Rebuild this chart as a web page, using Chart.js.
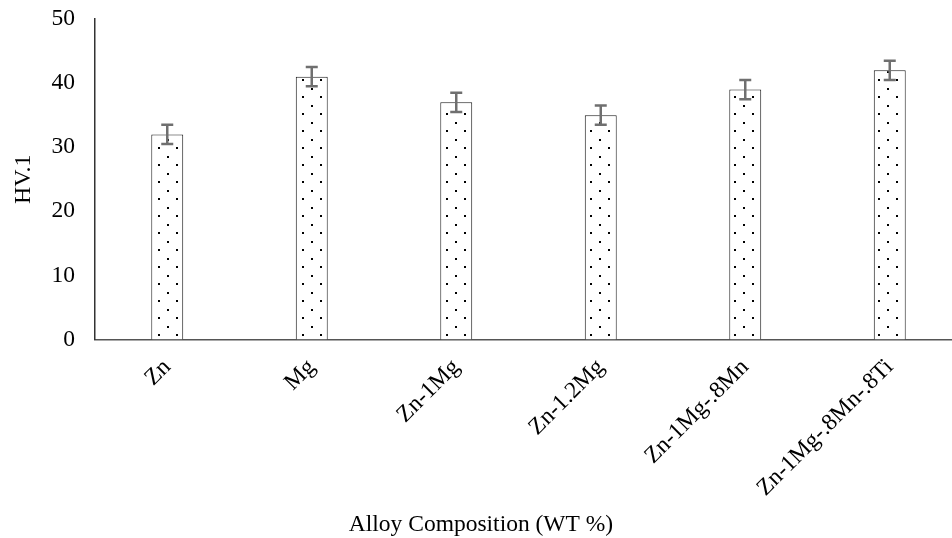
<!DOCTYPE html>
<html>
<head>
<meta charset="utf-8">
<script src="https://cdn.jsdelivr.net/npm/chart.js@4.4.1/dist/chart.umd.min.js"></script>
<style>
    html, body { margin: 0; padding: 0; background: #fff; overflow: hidden; }
    #wrap { width: 962px; height: 538px; }
</style>
</head>
<body>
<div id="wrap"><canvas id="barChart" width="962" height="538"></canvas></div>
<script>
// chart data
const alloys = ['Zn', 'Mg', 'Zn-1Mg', 'Zn-1.2Mg', 'Zn-1Mg-.8Mn', 'Zn-1Mg-.8Mn-.8Ti'];
const hardness = [32, 41, 37, 35, 39, 42];
const hardnessErr = [1.5, 1.5, 1.5, 1.5, 1.5, 1.5];
const yTicks = [0, 10, 20, 30, 40, 50];

const serif = 'Liberation Serif';

// dotted fill like the excel pattern
function dotPattern() {
    const c = document.createElement('canvas');
    c.width = 18;
    c.height = 17;
    const g = c.getContext('2d');
    g.fillStyle = '#fff';
    g.fillRect(0, 0, 18, 17);
    g.fillStyle = '#000';
    g.fillRect(14, 11, 2, 2);
    g.fillRect(5, 3, 2, 2);
    return document.getElementById('barChart').getContext('2d').createPattern(c, 'repeat');
}

// error bars drawn from the scale
const errorBars = {
    id: 'errorBars',
    afterDatasetsDraw(chart) {
        const ctx = chart.ctx;
        const y = chart.scales.y;
        const meta = chart.getDatasetMeta(0);
        ctx.save();
        ctx.strokeStyle = '#6f6f6f';
        ctx.lineWidth = 2.5;
        meta.data.forEach((bar, i) => {
            const top = y.getPixelForValue(hardness[i] + hardnessErr[i]);
            const bot = y.getPixelForValue(hardness[i] - hardnessErr[i]);
            ctx.beginPath();
            ctx.moveTo(bar.x, top);
            ctx.lineTo(bar.x, bot);
            ctx.moveTo(bar.x - 6, top);
            ctx.lineTo(bar.x + 6, top);
            ctx.moveTo(bar.x - 6, bot);
            ctx.lineTo(bar.x + 6, bot);
            ctx.stroke();
        });
        ctx.restore();
    }
};

Chart.defaults.font.family = serif;
Chart.defaults.color = '#000';

var chart = new Chart(document.getElementById('barChart'), {
    type: 'bar',
    data: {
        labels: alloys,
        datasets: [{
            label: 'HV.1',
            data: hardness,
            backgroundColor: dotPattern(),
            borderColor: '#1a1a1a',
            borderWidth: 1,
            categoryPercentage: 1,
            barPercentage: 0.221
        }]
    },
    options: {
        responsive: false,
        animation: false,
        layout: { padding: { top: 19, right: 0, left: 0, bottom: 0 } },
        plugins: {
            legend: { display: false },
            tooltip: { enabled: false },
            title: {
                display: true,
                position: 'bottom',
                text: 'Alloy Composition (WT %)',
                color: '#000',
                font: { size: 23.5, weight: 'normal', lineHeight: 1 },
                padding: { top: 0, bottom: 1 }
            }
        },
        scales: {
            x: {
                grid: { display: false },
                border: { display: true, color: '#555', width: 1.5 },
                ticks: {
                    font: { size: 23.5 },
                    maxRotation: 45,
                    minRotation: 45,
                    padding: 6
                },
                afterFit(scale) { scale.height = 174; }
            },
            y: {
                min: 0,
                max: 50,
                grid: { display: false, tickLength: 20 },
                border: { display: true, color: '#333', width: 1.5 },
                afterBuildTicks(scale) { scale.ticks = yTicks.map(v => ({ value: v })); },
                ticks: {
                    font: { size: 23.5 },
                    padding: 0
                },
                title: {
                    display: true,
                    text: 'HV.1',
                    font: { size: 24, lineHeight: 1 },
                    padding: { top: 12, bottom: 0 }
                },
                afterFit(scale) { scale.width = 95; }
            }
        }
    },
    plugins: [errorBars]
});
</script>
</body>
</html>
